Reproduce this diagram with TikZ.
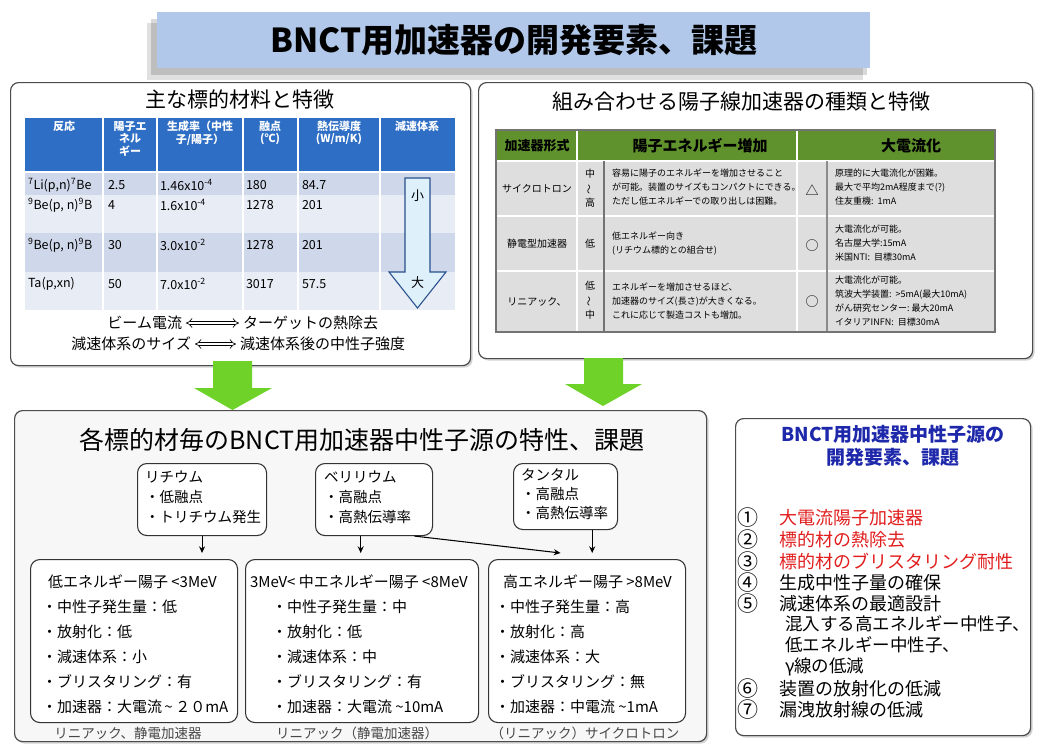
\documentclass[tikz,border=0pt]{standalone}
\usepackage{fontspec}
\setmainfont{Noto Sans CJK JP}
\usetikzlibrary{arrows.meta,calc,shadows}
\newcommand\pxf[2]{\fontsize{\fpeval{0.75*#1}}{\fpeval{0.75*#2}}\selectfont}
\definecolor{titlebg}{RGB}{178,200,234}
\definecolor{hdrblue}{RGB}{46,110,196}
\definecolor{rowdark}{RGB}{207,216,234}
\definecolor{rowlight}{RGB}{232,236,245}
\definecolor{arrowfill}{RGB}{222,240,250}
\definecolor{arrowline}{RGB}{40,80,140}
\definecolor{hdrgreen}{RGB}{95,145,45}
\definecolor{cellgrey}{RGB}{222,222,222}
\definecolor{bigarrow}{RGB}{110,210,40}
\definecolor{redtxt}{RGB}{225,30,30}
\definecolor{bluetxt}{RGB}{30,40,170}
\definecolor{captxt}{RGB}{70,70,70}
\begin{document}
\begin{tikzpicture}[x=0.75pt,y=-0.75pt,
  txt/.style={inner sep=0pt, outer sep=0pt},
  panel/.style={draw=black!70, line width=0.9pt, rounded corners=6pt, fill=white, inner sep=0pt, anchor=north west,
    drop shadow={shadow xshift=1.5pt, shadow yshift=-1.5pt, opacity=0.35}},
  smallbox/.style={draw=black!80, line width=0.8pt, rounded corners=7pt, fill=white, inner sep=0pt, anchor=north west},
  hdr/.style={txt, text=white, font=\bfseries\pxf{11}{12.5}, align=center, anchor=north},
  cell/.style={txt, font=\pxf{12.5}{12.5}, anchor=west},
  rcell/.style={txt, font=\pxf{9}{14}, align=left, anchor=west},
  dblarrow/.style={double, double distance=2pt, line width=0.5pt, {Implies}-{Implies}, shorten <=3pt, shorten >=3pt},
  conn/.style={-{Stealth[length=5pt,width=4.5pt]}, line width=0.8pt},
  item/.style={txt, font=\pxf{15}{15}, anchor=west},
]
\useasboundingbox (0,0) rectangle (1040,747);
\fill[white] (0,0) rectangle (1040,747);

% ---------- title ----------
\fill[black,opacity=.12] (147,23) rectangle (863,80);
\fill[black,opacity=.15] (151,19) rectangle (867,75);
\node[fill=titlebg, minimum width=713*0.75pt, minimum height=56*0.75pt, anchor=north west, inner sep=0pt] (titlebox) at (157,12) {};
\node[txt, font=\bfseries\pxf{33}{33}] (title) at (titlebox.center) {BNCT用加速器の開発要素、課題};

% ---------- left panel ----------
\node[panel, minimum width=460*0.75pt, minimum height=283*0.75pt] (leftpanel) at (10,82) {};
\node[txt, font=\pxf{21}{21}] (lefttitle) at (240,100) {主な標的材料と特徴};
\fill[hdrblue] (25,118) rectangle (455,172);
\fill[rowdark] (25,172) rectangle (455,195);
\fill[rowlight] (25,195) rectangle (455,233);
\fill[rowdark] (25,233) rectangle (455,272);
\fill[rowlight] (25,272) rectangle (455,310);
\foreach \x in {103,157,243,298,380} \draw[white, line width=1.2pt] (\x,118) -- (\x,310);
\draw[white, line width=1.5pt] (25,172) -- (455,172);
\node[hdr] (h1) at (64,121) {反応};
\node[hdr] (h2) at (130,121) {陽子エ\\ネル\\ギー};
\node[hdr] (h3) at (200,121) {生成率（中性\\子/陽子）};
\node[hdr] (h4) at (270,121) {融点\\(℃)};
\node[hdr] (h5) at (339,121) {熱伝導度\\(W/m/K)};
\node[hdr] (h6) at (417,121) {減速体系};
% rows
\node[cell] (a11) at (28,185) {\textsuperscript{7}Li(p,n)\textsuperscript{7}Be};
\node[cell] (a12) at (108,185) {2.5};
\node[cell] (a13) at (160,185) {1.46x10\textsuperscript{-4}};
\node[cell] (a14) at (246,185) {180};
\node[cell] (a15) at (302,185) {84.7};
\node[cell] (a21) at (28,205) {\textsuperscript{9}Be(p, n)\textsuperscript{9}B};
\node[cell] (a22) at (108,205) {4};
\node[cell] (a23) at (160,205) {1.6x10\textsuperscript{-4}};
\node[cell] (a24) at (246,205) {1278};
\node[cell] (a25) at (302,205) {201};
\node[cell] (a31) at (28,245) {\textsuperscript{9}Be(p, n)\textsuperscript{9}B};
\node[cell] (a32) at (108,245) {30};
\node[cell] (a33) at (160,245) {3.0x10\textsuperscript{-2}};
\node[cell] (a34) at (246,245) {1278};
\node[cell] (a35) at (302,245) {201};
\node[cell] (a41) at (28,284) {Ta(p,xn)};
\node[cell] (a42) at (108,284) {50};
\node[cell] (a43) at (160,284) {7.0x10\textsuperscript{-2}};
\node[cell] (a44) at (246,284) {3017};
\node[cell] (a45) at (302,284) {57.5};
% block arrow
\draw[fill=arrowfill, draw=arrowline, line width=0.8pt] (405,178) -- (430,178) -- (430,272) -- (446,272) -- (417.5,308) -- (389,272) -- (405,272) -- cycle;
\node[txt, font=\pxf{13}{13}] (small) at (417.5,196) {小};
\node[txt, font=\pxf{13}{13}] (large) at (417.5,283) {大};
% bottom lines
\node[txt, font=\pxf{15}{15}, anchor=east] (bl1) at (182,323) {ビーム電流};
\node[txt, font=\pxf{15}{15}, anchor=west] (br1) at (243,323) {ターゲットの熱除去};
\node[txt, font=\pxf{15}{15}, anchor=east] (bl2) at (191,344) {減速体系のサイズ};
\node[txt, font=\pxf{15}{15}, anchor=west] (br2) at (240,344) {減速体系後の中性子強度};
\draw[dblarrow] (bl1.east) -- (br1.west);
\draw[dblarrow] (bl2.east) -- (br2.west);

% ---------- right panel ----------
\node[panel, minimum width=554*0.75pt, minimum height=276*0.75pt] (rightpanel) at (478,82) {};
\node[txt, font=\pxf{21}{21}] (righttitle) at (741,102) {組み合わせる陽子線加速器の種類と特徴};
\fill[hdrgreen] (496,130) rectangle (995,161);
\fill[cellgrey] (496,161) rectangle (995,332);
\draw[white, line width=1.5pt] (496,161) -- (995,161);
\draw[white, line width=1.5pt] (496,216) -- (995,216);
\draw[white, line width=1.5pt] (496,271) -- (995,271);
\draw[white, line width=1.2pt] (577,130) -- (577,332);
\draw[white, line width=1.2pt] (797,130) -- (797,332);
\draw[black!55, line width=0.8pt] (604,161) -- (604,332);
\draw[black!45, line width=0.8pt] (827,161) -- (827,332);
\draw[black!55, line width=0.8pt] (496,130) rectangle (995,332);
\node[txt, font=\bfseries\pxf{13}{13}] (rh1) at (537,146) {加速器形式};
\node[txt, font=\bfseries\pxf{15}{15}] (rh2) at (700,146) {陽子エネルギー増加};
\node[txt, font=\bfseries\pxf{15}{15}] (rh3) at (911,146) {大電流化};
% row 1
\node[txt, font=\pxf{10}{10}] (c11) at (537,189) {サイクロトロン};
\node[txt, font=\pxf{10}{10}] (c12a) at (590,174) {中};
\node[txt, font=\pxf{10}{10}, rotate=90] (c12b) at (590,189) {～};
\node[txt, font=\pxf{10}{10}] (c12c) at (590,203) {高};
\node[rcell] (c13) at (612,187) {容易に陽子のエネルギーを増加させること\\が可能。装置のサイズもコンパクトにできる。\\ただし低エネルギーでの取り出しは困難。};
\node[txt, font=\pxf{13}{13}] (c14) at (812,190) {△};
\node[rcell] (c15) at (835,187) {原理的に大電流化が困難。\\最大で平均2mA程度まで(?)\\住友重機:\ \ 1mA};
% row 2
\node[txt, font=\pxf{10}{10}] (c21) at (537,244) {静電型加速器};
\node[txt, font=\pxf{10}{10}] (c22) at (590,244) {低};
\node[rcell] (c23) at (612,244) {低エネルギー向き\\(リチウム標的との組合せ)};
\node[txt, font=\pxf{13}{13}] (c24) at (812,246) {○};
\node[rcell] (c25) at (835,243) {大電流化が可能。\\名古屋大学:15mA\\米国NTI:\ \ 目標30mA};
% row 3
\node[txt, font=\pxf{10}{10}] (c31) at (537,302) {リニアック、};
\node[txt, font=\pxf{10}{10}] (c32a) at (590,286) {低};
\node[txt, font=\pxf{10}{10}, rotate=90] (c32b) at (590,301) {～};
\node[txt, font=\pxf{10}{10}] (c32c) at (590,315) {中};
\node[rcell] (c33) at (612,301) {エネルギーを増加させるほど、\\加速器のサイズ(長さ)が大きくなる。\\これに応じて製造コストも増加。};
\node[txt, font=\pxf{13}{13}] (c34) at (812,302) {○};
\node[rcell] (c35) at (835,301) {大電流化が可能。\\筑波大学装置:\ \ >5mA(最大10mA)\\がん研究センター:\ 最大20mA\\イタリアINFN:\ \ 目標30mA};

% ---------- big bottom panel ----------
\node[panel, fill=black!3, minimum width=692*0.75pt, minimum height=331*0.75pt] (bigpanel) at (14,410) {};
\node[txt, font=\pxf{25}{25}] (bigtitle) at (362,440) {各標的材毎のBNCT用加速器中性子源の特性、課題};

% green arrows
\fill[bigarrow] (213,361) -- (252,361) -- (252,388) -- (272,388) -- (232.5,410) -- (194,388) -- (213,388) -- cycle;
\fill[bigarrow] (584,358) -- (623,358) -- (623,384) -- (642,384) -- (603,406) -- (565,384) -- (584,384) -- cycle;

% material boxes
\node[smallbox, minimum width=129*0.75pt, minimum height=72*0.75pt] (li) at (137,463) {};
\node[txt, font=\pxf{14.5}{20}, align=left, anchor=north west] (litxt) at (145,471) {リチウム\\・低融点\\・トリチウム発生};
\node[smallbox, minimum width=117*0.75pt, minimum height=72*0.75pt] (be) at (315,463) {};
\node[txt, font=\pxf{14.5}{20}, align=left, anchor=north west] (betxt) at (324,471) {ベリリウム\\・高融点\\・高熱伝導率};
\node[smallbox, minimum width=104*0.75pt, minimum height=66*0.75pt] (ta) at (513,463) {};
\node[txt, font=\pxf{14.5}{19}, align=left, anchor=north west] (tatxt) at (521,469) {タンタル\\・高融点\\・高熱伝導率};

% energy boxes
\node[smallbox, minimum width=207*0.75pt, minimum height=163*0.75pt] (boxA) at (30,559) {};
\node[smallbox, minimum width=233*0.75pt, minimum height=163*0.75pt] (boxB) at (245,559) {};
\node[smallbox, minimum width=197*0.75pt, minimum height=163*0.75pt] (boxC) at (488,559) {};

\node[item] (a0) at (48,582) {低エネルギー陽子 <3MeV};
\node[item] (a1) at (42,607) {・中性子発生量：低};
\node[item] (a2) at (42,632) {・放射化：低};
\node[item] (a3) at (42,657) {・減速体系：小};
\node[item] (a4) at (42,682) {・ブリスタリング：有};
\node[item] (a5) at (42,707) {・加速器：大電流\,\textasciitilde\,２０mA};

\node[item] (b0) at (250,582) {3MeV< 中エネルギー陽子 <8MeV};
\node[item] (b1) at (272,607) {・中性子発生量：中};
\node[item] (b2) at (272,632) {・放射化：低};
\node[item] (b3) at (272,657) {・減速体系：中};
\node[item] (b4) at (272,682) {・ブリスタリング：有};
\node[item] (b5) at (272,707) {・加速器：大電流 \textasciitilde10mA};

\node[item] (cc0) at (503,582) {高エネルギー陽子 >8MeV};
\node[item] (cc1) at (495,607) {・中性子発生量：高};
\node[item] (cc2) at (495,632) {・放射化：高};
\node[item] (cc3) at (495,657) {・減速体系：大};
\node[item] (cc4) at (495,682) {・ブリスタリング：無};
\node[item] (cc5) at (495,707) {・加速器：中電流 \textasciitilde1mA};

\node[txt, font=\pxf{13.5}{13.5}, text=captxt] (capA) at (128,733) {リニアック、静電加速器};
\node[txt, font=\pxf{13.5}{13.5}, text=captxt] (capB) at (357,733) {リニアック（静電加速器）};
\node[txt, font=\pxf{13.5}{13.5}, text=captxt] (capC) at (585,733) {（リニアック）サイクロトロン};

% connectors
\draw[conn, shorten >=4.5pt] (li.south) -- (li.south |- boxA.north);
\draw[conn, shorten >=4.5pt] ([xshift=-10pt]be.south) -- ([xshift=-10pt]be.south |- boxB.north);
\draw[conn, shorten >=4.5pt] ([xshift=20pt]ta.south) -- ([xshift=20pt]ta.south |- boxC.north);
\draw[conn] ([xshift=-14pt]be.south east) -- ($(boxC.north)+(-26.5,-6)$);

% ---------- right summary panel ----------
\node[panel, minimum width=295*0.75pt, minimum height=317*0.75pt] (sumpanel) at (735,418) {};
\node[txt, font=\bfseries\pxf{19}{23}, text=bluetxt, align=center] (sumtitle) at (893,446) {BNCT用加速器中性子源の\\開発要素、課題};
\foreach \n/\y/\t/\c [count=\i] in {①/518/大電流陽子加速器/redtxt, ②/540/標的材の熱除去/redtxt, ③/562/標的材のブリスタリング耐性/redtxt, ④/583/生成中性子量の確保/black, ⑤/604/減速体系の最適設計/black, ⑥/689/装置の放射化の低減/black, ⑦/710/漏洩放射線の低減/black}{
  \node[txt, font=\pxf{21}{21}] (num\i) at (748,\y) {\n};
  \node[txt, font=\pxf{18}{18}, anchor=west, text=\c] (it\i) at (779,\y) {\t};
}
\node[txt, font=\pxf{17.5}{21}, anchor=north west, align=left] (sub5) at (785,616) {混入する高エネルギー中性子、\\低エネルギー中性子、\\γ線の低減};
\end{tikzpicture}
\end{document}
